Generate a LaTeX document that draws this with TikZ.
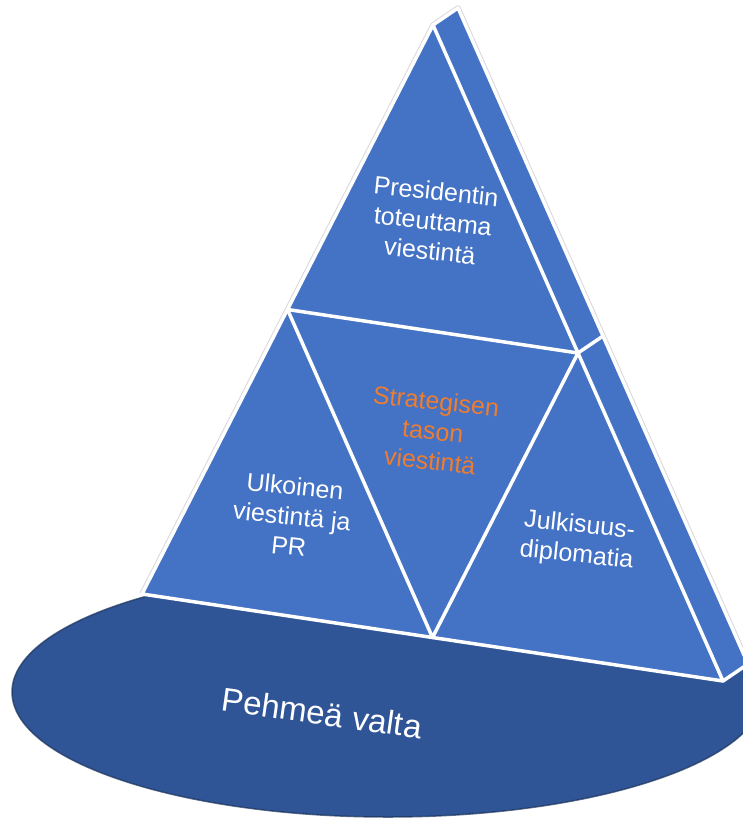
\documentclass[tikz,border=0pt]{standalone}
\usepackage{fontspec}
\setmainfont{Liberation Sans}
\usepackage{xcolor}
\usepackage{tikz}
\usetikzlibrary{calc}
\definecolor{pyramidblue}{RGB}{68,114,196}
\definecolor{baseblue}{RGB}{47,85,151}
\definecolor{strategyorange}{RGB}{237,125,49}
\tikzset{
  face-fill/.style={fill=pyramidblue, line join=round},
  split-line/.style={draw=white, line width=3.5pt, line join=round, line cap=round},
  halo-line/.style={draw=gray!30, line width=5.5pt, line join=round},
  level-text/.style={text=white, align=center, inner sep=0pt, rotate=-6,
    font=\fontsize{25}{30}\selectfont},
  base-text/.style={text=white, inner sep=0pt, rotate=-8,
    font=\fontsize{33}{38}\selectfont}
}

\begin{document}
\begin{tikzpicture}[x=1pt, y=-1pt]
\useasboundingbox (0,0) rectangle (743,820);
\clip (0,0) rectangle (743,820);

% Base ellipse
\fill[baseblue] (388,692) ellipse [x radius=376, y radius=125];
\draw[baseblue!60!black, line width=1.5pt, opacity=0.7] (388,692) ellipse [x radius=376, y radius=125];

% Pyramid corners
\coordinate (apex) at (433,25);
\coordinate (left) at (142,594);
\coordinate (right) at (723,681);
\coordinate (apex-back) at ($(apex)+(25,-17)$);
\coordinate (right-back) at ($(right)+(25,-17)$);
\coordinate (mid-left) at ($(apex)!0.5!(left)$);
\coordinate (mid-right) at ($(apex)!0.5!(right)$);
\coordinate (mid-bottom) at ($(left)!0.5!(right)$);
\coordinate (mid-back) at ($(mid-right)+(25,-17)$);

% Faces
\draw[halo-line] (left) -- (apex) -- (apex-back) -- (right-back);
\fill[face-fill] (apex) -- (apex-back) -- (right-back) -- (right) -- cycle;
\fill[face-fill] (apex) -- (left) -- (right) -- cycle;

% White edges
\draw[split-line] (apex) -- (left) -- (right) -- cycle;
\draw[split-line] (apex) -- (apex-back) -- (right-back) -- (right);
\draw[split-line] (mid-left) -- (mid-right) -- (mid-bottom) -- cycle;
\draw[split-line] (mid-right) -- (mid-back);

% Labels
\node[level-text] (president) at (433,221) {Presidentin\\toteuttama\\viestintä};
\node[level-text, text=strategyorange] (strategic) at (433,431) {Strategisen\\tason\\viestintä};
\node[level-text] (external) at (292,516) {Ulkoinen\\viestintä ja\\PR};
\node[level-text] (diplomacy) at (578,541) {Julkisuus-\\diplomatia};
\node[base-text] (softpower) at (322,713) {Pehmeä valta};
\end{tikzpicture}
\end{document}
